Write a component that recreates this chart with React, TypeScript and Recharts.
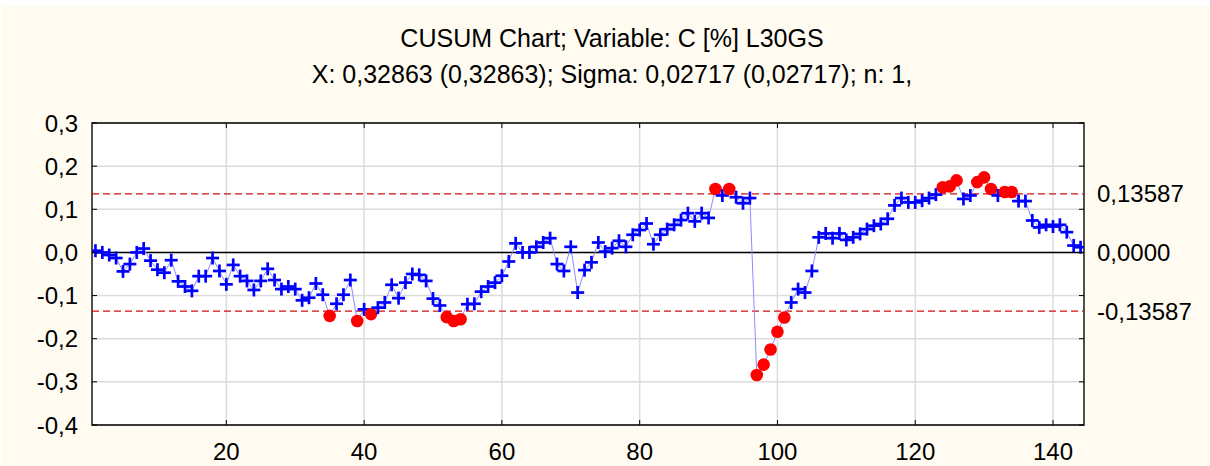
import { CartesianGrid, ComposedChart, Line, ReferenceArea, ReferenceLine, XAxis, YAxis } from 'recharts'

// sample number on the x axis, one per observation
const SAMPLES = Array.from({ length: 144 }, (_, i) => i + 1)

// cumulative sum
const CUSUM = [
  0.004, 0.0, -0.006, -0.013, -0.044, -0.027, 0.0, 0.009, -0.019, -0.04,
  -0.047, -0.018, -0.067, -0.079, -0.089, -0.055, -0.055, -0.013, -0.043, -0.074,
  -0.029, -0.055, -0.066, -0.087, -0.066, -0.038, -0.064, -0.085, -0.079, -0.085,
  -0.111, -0.105, -0.072, -0.098, -0.147, -0.119, -0.098, -0.064, -0.159, -0.132,
  -0.143, -0.128, -0.116, -0.075, -0.106, -0.07, -0.05, -0.052, -0.066, -0.107,
  -0.123, -0.15, -0.159, -0.155, -0.12, -0.119, -0.091, -0.079, -0.07, -0.054,
  -0.021, 0.021, 0.0, 0.0, 0.013, 0.023, 0.033, -0.027, -0.043, 0.013,
  -0.093, -0.041, -0.023, 0.023, 0.002, 0.01, 0.027, 0.013, 0.041, 0.052,
  0.067, 0.019, 0.041, 0.054, 0.064, 0.075, 0.091, 0.072, 0.091, 0.08,
  0.147, 0.132, 0.147, 0.128, 0.114, 0.126, -0.284, -0.26, -0.225, -0.184,
  -0.151, -0.116, -0.085, -0.093, -0.043, 0.035, 0.044, 0.033, 0.044, 0.029,
  0.035, 0.043, 0.054, 0.062, 0.066, 0.078, 0.109, 0.126, 0.116, 0.116,
  0.12, 0.126, 0.134, 0.151, 0.153, 0.167, 0.124, 0.132, 0.163, 0.174,
  0.147, 0.132, 0.14, 0.14, 0.119, 0.119, 0.074, 0.058, 0.064, 0.06,
  0.064, 0.047, 0.016, 0.012,
]

const UCL = 0.13587
const LCL = -0.13587

const Y_TICKS = [-0.4, -0.3, -0.2, -0.1, 0, 0.1, 0.2, 0.3]
const X_TICKS = [20, 40, 60, 80, 100, 120, 140]
const RIGHT_TICKS = [UCL, 0, LCL]

const TITLE = 'CUSUM Chart; Variable: C [%] L30GS'
const SUBTITLE = 'X: 0,32863 (0,32863); Sigma: 0,02717 (0,02717); n: 1,'

const FONT = '"Liberation Sans", Arial, sans-serif'
const W = 1210
const H = 466
const MARGIN = { top: 123, right: 0, bottom: 0, left: 0 }
const LEFT_W = 92
const RIGHT_W = 126
const BOTTOM_H = 41
const PLOT_W = W - LEFT_W - RIGHT_W
const PLOT_H = H - MARGIN.top - BOTTOM_H

const data = SAMPLES.map((n, i) => ({ n, value: CUSUM[i] }))

const comma = (v: number, digits: number) => v.toFixed(digits).replace('.', ',')

function LeftTick({ x, y, payload }: any) {
  const edge = x + 14
  return (
    <g>
      <line x1={edge} x2={edge + 5} y1={y} y2={y} stroke="#000" />
      <line x1={edge + PLOT_W - 5} x2={edge + PLOT_W} y1={y} y2={y} stroke="#000" />
      <text x={x} y={y} dy="0.355em" textAnchor="end" fontSize={24} fontFamily={FONT} fill="#000">
        {comma(payload.value, 1)}
      </text>
    </g>
  )
}

function BottomTick({ x, y, payload }: any) {
  const edge = y - 18
  return (
    <g>
      <line x1={x} x2={x} y1={edge} y2={edge - 5} stroke="#000" />
      <line x1={x} x2={x} y1={edge - PLOT_H} y2={edge - PLOT_H + 5} stroke="#000" />
      <text x={x} y={y} dy="0.71em" textAnchor="middle" fontSize={24} fontFamily={FONT} fill="#000">
        {payload.value}
      </text>
    </g>
  )
}

function Marker(props: any) {
  const { cx, cy, payload, index } = props
  if (cx == null || cy == null) return <g key={index} />
  if (payload.value > UCL || payload.value < LCL) {
    return <circle key={index} cx={cx} cy={cy} r={6.3} fill="#ff0000" />
  }
  return (
    <g key={index}>
      <line x1={cx - 6.5} x2={cx + 6.5} y1={cy} y2={cy} stroke="#0000ff" strokeWidth={2.7} />
      <line x1={cx} x2={cx} y1={cy - 6.5} y2={cy + 6.5} stroke="#0000ff" strokeWidth={2.7} />
    </g>
  )
}

export default function App() {
  return (
    <div style={{ position: 'absolute', left: 0, top: 0, width: W, height: H, background: '#fff' }}>
      <div style={{ position: 'absolute', left: 2, top: 6, right: 0, bottom: 0, background: '#fffbf0' }} />
      <svg width={W} height={100} style={{ position: 'absolute', left: 0, top: 0 }}>
        <text x={612} y={47.2} textAnchor="middle" fontSize={25} fontFamily={FONT} fill="#000">
          {TITLE}
        </text>
        <text x={612} y={83} textAnchor="middle" fontSize={25} fontFamily={FONT} fill="#000">
          {SUBTITLE}
        </text>
      </svg>
      <div style={{ position: 'absolute', left: 0, top: 0 }}>
        <ComposedChart width={W} height={H} data={data} margin={MARGIN}>
          <CartesianGrid stroke="#dcdcdc" strokeWidth={1.5} fill="#fff" />
          <XAxis
            dataKey="n"
            type="number"
            domain={[0.5, 144.5]}
            ticks={X_TICKS}
            allowDataOverflow
            height={BOTTOM_H}
            axisLine={false}
            tickLine={false}
            tickSize={6}
            tickMargin={12}
            tick={<BottomTick />}
          />
          <YAxis
            domain={[-0.4, 0.3]}
            ticks={Y_TICKS}
            allowDataOverflow
            width={LEFT_W}
            axisLine={false}
            tickLine={false}
            tickSize={6}
            tickMargin={8}
            tick={<LeftTick />}
          />
          <YAxis
            yAxisId="right"
            orientation="right"
            domain={[-0.4, 0.3]}
            ticks={RIGHT_TICKS}
            allowDataOverflow
            width={RIGHT_W}
            axisLine={false}
            tickLine={false}
            tickSize={6}
            tickMargin={7}
            tick={{ fontSize: 24, fontFamily: FONT, fill: '#000', textAnchor: 'start' }}
            tickFormatter={(v: number) => comma(v, v === 0 ? 4 : 5)}
          />
          <ReferenceLine y={0} stroke="#000" strokeWidth={1.5} />
          <ReferenceLine y={UCL} stroke="#d01010" strokeWidth={1.2} strokeDasharray="7 4" />
          <ReferenceLine y={LCL} stroke="#d01010" strokeWidth={1.2} strokeDasharray="7 4" />
          <ReferenceArea x1={0.5} x2={144.5} y1={-0.4} y2={0.3} fill="none" stroke="#000" strokeWidth={1.3} />
          <Line
            dataKey="value"
            stroke="#8c8cff"
            strokeWidth={1}
            dot={Marker}
            activeDot={false}
            isAnimationActive={false}
          />
        </ComposedChart>
      </div>
    </div>
  )
}
